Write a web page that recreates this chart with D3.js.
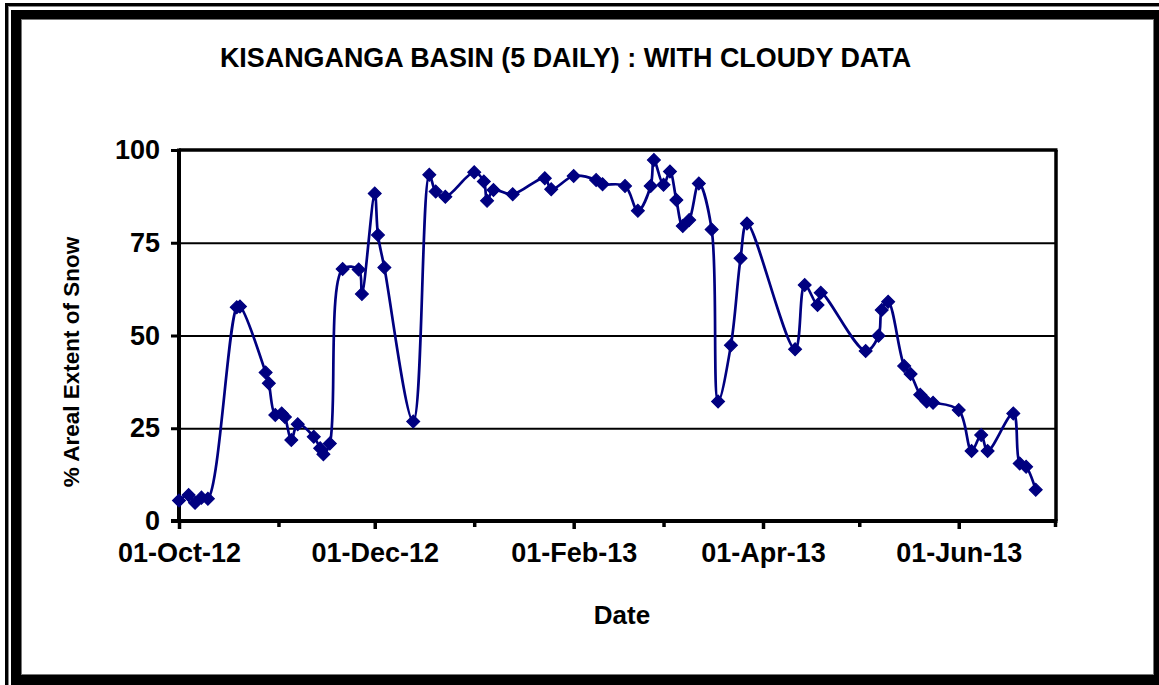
<!DOCTYPE html>
<html>
<head>
<meta charset="utf-8">
<script src="https://cdn.jsdelivr.net/npm/d3@7"></script>
<style>
  html, body { margin: 0; padding: 0; background: #fff; }
  svg { display: block; }
  text { font-family: "Liberation Sans", Arial, sans-serif; font-weight: bold; fill: #000; }
</style>
</head>
<body>
<svg id="chart" width="1159" height="685"></svg>
<script>
// Observation dates (snow cover scenes) and % areal snow extent
const dates = [
  "2012-10-01","2012-10-04","2012-10-06","2012-10-08","2012-10-10","2012-10-19","2012-10-20",
  "2012-10-28","2012-10-29","2012-10-31","2012-11-02","2012-11-03","2012-11-05","2012-11-07",
  "2012-11-12","2012-11-14","2012-11-15","2012-11-17","2012-11-21","2012-11-26","2012-11-27",
  "2012-12-01","2012-12-02","2012-12-04","2012-12-13","2012-12-18","2012-12-20","2012-12-23",
  "2013-01-01","2013-01-04","2013-01-05","2013-01-07","2013-01-13","2013-01-23","2013-01-25",
  "2013-02-01","2013-02-08","2013-02-10","2013-02-17","2013-02-21","2013-02-25","2013-02-26",
  "2013-03-01","2013-03-03","2013-03-05","2013-03-07","2013-03-09","2013-03-12","2013-03-16",
  "2013-03-18","2013-03-22","2013-03-25","2013-03-27","2013-04-11","2013-04-14","2013-04-18",
  "2013-04-19","2013-05-03","2013-05-07","2013-05-08","2013-05-10","2013-05-15","2013-05-17",
  "2013-05-20","2013-05-22","2013-05-24","2013-06-01","2013-06-05","2013-06-08","2013-06-10",
  "2013-06-18","2013-06-20","2013-06-22","2013-06-25"
];
const snowExtent = [
  5.5, 7.0, 4.9, 6.3, 6.0, 57.6, 57.8,
  40.0, 37.1, 28.6, 29.0, 28.0, 21.8, 26.1,
  22.7, 19.6, 18.0, 20.9, 67.9, 67.8, 61.2,
  88.3, 77.1, 68.3, 26.8, 93.3, 88.8, 87.4,
  94.0, 91.5, 86.3, 89.2, 88.1, 92.4, 89.4,
  93.0, 91.9, 90.8, 90.3, 83.6, 90.3, 97.3,
  90.6, 94.2, 86.5, 79.5, 81.1, 91.0, 78.6,
  32.2, 47.4, 70.8, 80.2, 46.3, 63.6, 58.2,
  61.5, 45.8, 49.9, 56.9, 59.1, 41.8, 39.6,
  34.0, 32.2, 31.9, 29.9, 18.9, 23.2, 18.9,
  29.0, 15.5, 14.6, 8.4
];
const yTicks = [0, 25, 50, 75, 100];
const gridValues = [25, 50, 75];
const xDomain = ["2012-10-01", "2013-07-01"];
const titleText = "KISANGANGA BASIN (5 DAILY) : WITH CLOUDY DATA";
const xTitle = "Date";
const yTitle = "% Areal Extent of Snow";

const parse = d3.utcParse("%Y-%m-%d");
const data = dates.map((d, i) => ({ date: parse(d), value: snowExtent[i] }));

const svg = d3.select("#chart");
const W = 1159, H = 685;
const plot = { left: 179, right: 1056, top: 150, bottom: 521 };

svg.append("rect").attr("width", W).attr("height", H).attr("fill", "#fff");

// ---- double picture frame ----
const frame = svg.append("g");
frame.append("line").attr("x1", 5).attr("x2", W).attr("y1", 4.5).attr("y2", 4.5)
  .attr("stroke", "#000").attr("stroke-width", 3);
frame.append("line").attr("x1", 6.5).attr("x2", 6.5).attr("y1", 3).attr("y2", H)
  .attr("stroke", "#000").attr("stroke-width", 3);
frame.append("line").attr("x1", 8).attr("x2", W).attr("y1", 6.5).attr("y2", 6.5)
  .attr("stroke", "#888").attr("stroke-width", 1);
frame.append("line").attr("x1", 8.5).attr("x2", 8.5).attr("y1", 6).attr("y2", H)
  .attr("stroke", "#888").attr("stroke-width", 1);
frame.append("path")
  .attr("fill-rule", "evenodd")
  .attr("fill", "#000")
  .attr("d", `M11,10H${W + 5}V${H + 5}H11Z M21,19V675H1154V19Z`);
frame.append("rect").attr("x", 21.5).attr("y", 19.5).attr("width", 1132).attr("height", 655)
  .attr("fill", "none").attr("stroke", "#777").attr("stroke-width", 1);

// ---- scales ----
const x = d3.scaleUtc().domain(xDomain.map(parse)).range([plot.left, plot.right - 1]);
const y = d3.scaleLinear().domain([0, 100]).range([plot.bottom, plot.top]);

// ---- gridlines ----
svg.append("g")
  .attr("transform", `translate(${plot.left},0)`)
  .call(d3.axisLeft(y).tickValues(gridValues).tickSize(-(plot.right - plot.left)).tickFormat(""))
  .call(g => g.select(".domain").remove())
  .call(g => g.selectAll("line").attr("stroke", "#000").attr("stroke-width", 2));

// ---- plot border (top & right) ----
svg.append("line").attr("x1", plot.left).attr("x2", plot.right + 1.5)
  .attr("y1", plot.top).attr("y2", plot.top).attr("stroke", "#000").attr("stroke-width", 3.5);
svg.append("line").attr("x1", plot.right).attr("x2", plot.right)
  .attr("y1", plot.top).attr("y2", plot.bottom).attr("stroke", "#000").attr("stroke-width", 3.5);

// ---- y axis ----
const yAxis = svg.append("g")
  .attr("transform", `translate(${plot.left},0)`)
  .call(d3.axisLeft(y).tickValues(yTicks).tickSizeInner(8).tickSizeOuter(0).tickPadding(11))
  .call(g => g.select(".domain").remove());
yAxis.selectAll("line").attr("stroke", "#000").attr("stroke-width", 3);
yAxis.selectAll("text").style("font-size", "27px").style("font-family", "'Liberation Sans', Arial, sans-serif")
  .style("font-weight", "bold").attr("fill", "#000");

// ---- x axis: monthly ticks, labels every second month ----
const months = d3.utcMonth.range(parse(xDomain[0]), d3.utcDay.offset(parse(xDomain[1]), 1));
const labelled = months.filter((d, i) => i % 2 === 0);
const minor = months.filter((d, i) => i % 2 === 1);
const fmt = d3.utcFormat("%d-%b-%y");

svg.append("g")
  .attr("transform", `translate(0,${plot.bottom})`)
  .call(d3.axisBottom(x).tickValues(minor).tickSizeInner(6).tickSizeOuter(0).tickFormat(""))
  .call(g => g.select(".domain").remove())
  .call(g => g.selectAll("line").attr("stroke", "#000").attr("stroke-width", 3.5));

const xAxis = svg.append("g")
  .attr("transform", `translate(0,${plot.bottom})`)
  .call(d3.axisBottom(x).tickValues(labelled).tickSizeInner(8).tickSizeOuter(0).tickPadding(14).tickFormat(fmt))
  .call(g => g.select(".domain").remove());
xAxis.selectAll("line").attr("stroke", "#000").attr("stroke-width", 3.5);
xAxis.selectAll("text").style("font-size", "27px").style("font-family", "'Liberation Sans', Arial, sans-serif")
  .style("font-weight", "bold").attr("fill", "#000");

// axis lines
svg.append("line").attr("x1", plot.left).attr("x2", plot.left)
  .attr("y1", plot.top - 1.5).attr("y2", plot.bottom + 2).attr("stroke", "#000").attr("stroke-width", 4);
svg.append("line").attr("x1", plot.left - 8).attr("x2", plot.right + 1.5)
  .attr("y1", plot.bottom).attr("y2", plot.bottom).attr("stroke", "#000").attr("stroke-width", 4);

// ---- series ----
const line = d3.line()
  .x(d => x(d.date))
  .y(d => y(d.value))
  .curve(d3.curveCatmullRom.alpha(0.5));

svg.append("path")
  .datum(data)
  .attr("fill", "none")
  .attr("stroke", "#000080")
  .attr("stroke-width", 2.7)
  .attr("d", line);

const diamond = d3.symbol(d3.symbolSquare, 82);
svg.append("g").selectAll("path")
  .data(data)
  .join("path")
  .attr("d", diamond)
  .attr("transform", d => `translate(${x(d.date)},${y(d.value)}) rotate(45)`)
  .attr("fill", "#000080")
  .attr("stroke", "#000080")
  .attr("stroke-width", 1.2);

// ---- titles ----
svg.append("text")
  .attr("x", 565.5).attr("y", 67)
  .attr("text-anchor", "middle")
  .style("font-size", "26.9px")
  .text(titleText);

svg.append("text")
  .attr("x", 622).attr("y", 624)
  .attr("text-anchor", "middle")
  .style("font-size", "26px")
  .text(xTitle);

svg.append("text")
  .attr("transform", "translate(79,362) rotate(-90)")
  .attr("text-anchor", "middle")
  .style("font-size", "22.5px")
  .text(yTitle);
</script>
</body>
</html>
